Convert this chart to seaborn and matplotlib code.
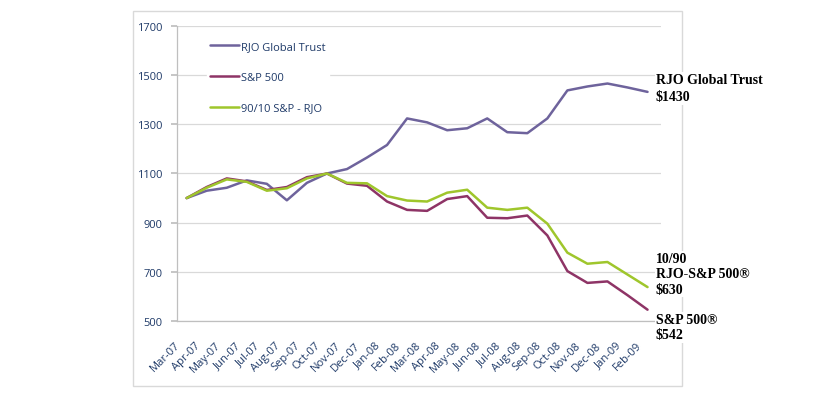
import matplotlib.pyplot as plt
import matplotlib.patches as mpatches
import numpy as np
import pandas as pd
import seaborn as sns

MONTHS = [
    "Mar-07", "Apr-07", "May-07", "Jun-07", "Jul-07", "Aug-07", "Sep-07", "Oct-07",
    "Nov-07", "Dec-07", "Jan-08", "Feb-08", "Mar-08", "Apr-08", "May-08", "Jun-08",
    "Jul-08", "Aug-08", "Sep-08", "Oct-08", "Nov-08", "Dec-08", "Jan-09", "Feb-09",
]
RJO = [1000, 1030, 1042, 1072, 1058, 991, 1062, 1100, 1118, 1165, 1216, 1324,
       1308, 1276, 1284, 1324, 1268, 1264, 1324, 1438, 1454, 1466, 1450, 1432]
SP500 = [1000, 1045, 1080, 1068, 1033, 1045, 1085, 1100, 1059, 1050, 986, 952,
         948, 996, 1008, 920, 918, 929, 848, 703, 655, 661, 605, 546]
MIX = [1000, 1042, 1076, 1066, 1030, 1040, 1080, 1100, 1062, 1060, 1008, 990,
       986, 1022, 1034, 961, 952, 961, 896, 778, 733, 740, 689, 638]
SERIES = ["RJO Global Trust", "S&P 500", "90/10 S&P - RJO"]
COLORS = ["#6E639C", "#8E3466", "#9FC62C"]
YTICKS = [500, 700, 900, 1100, 1300, 1500, 1700]

NAVY = "#1F3A68"
GRID = "#D9D9D9"

df = pd.DataFrame({"idx": np.arange(len(MONTHS)), "RJO Global Trust": RJO,
                   "S&P 500": SP500, "90/10 S&P - RJO": MIX})
long_df = df.melt(id_vars="idx", var_name="series", value_name="value")

sns.set_theme(style="white")
plt.rcParams["font.family"] = ["Open Sans", "DejaVu Sans"]

fig = plt.figure(figsize=(8.16, 4.06), dpi=100)
ax = fig.add_axes([0.2165, 0.2069, 0.593, 0.7266])

# outer chart frame
fig.patches.append(mpatches.Rectangle((133 / 816, 1 - 387 / 406), 549 / 816, 375 / 406,
                                      transform=fig.transFigure, fill=False,
                                      edgecolor=GRID, linewidth=1.0, zorder=0))

sns.lineplot(data=long_df, x="idx", y="value", hue="series", hue_order=SERIES,
             palette=COLORS, linewidth=1.8, ax=ax)

ax.set_xlim(-0.5, 23.65)
ax.set_ylim(500, 1700)
ax.set_yticks(YTICKS)
ax.set_yticklabels([str(v) for v in YTICKS], color=NAVY, fontsize=8)
ax.yaxis.grid(True, color=GRID, linewidth=0.9)
ax.set_axisbelow(True)

# labels sit a little left of the category centre, like Excel's rotated labels
ax.set_xticks(np.arange(len(MONTHS)) - 0.4)
ax.set_xticklabels(MONTHS, rotation=45, ha="right", va="center", rotation_mode="anchor",
                   color=NAVY, fontsize=8)
ax.set_xticks(np.arange(len(MONTHS) + 1) - 0.5, minor=True)
ax.tick_params(axis="x", which="major", length=0, pad=16)
ax.tick_params(axis="x", which="minor", length=4, color="#BFBFBF", direction="out")
ax.tick_params(axis="y", length=4, color="#BFBFBF", direction="out", pad=6, left=True)
ax.set_xlabel("")
ax.set_ylabel("")

for side in ["top", "right"]:
    ax.spines[side].set_visible(False)
for side in ["left", "bottom"]:
    ax.spines[side].set_color("#BFBFBF")
    ax.spines[side].set_linewidth(0.9)

handles, labels = ax.get_legend_handles_labels()
leg = ax.legend(handles, labels, loc="upper left", bbox_to_anchor=(201 / 816, 1 - 33 / 406),
                bbox_transform=fig.transFigure, frameon=True, fontsize=8,
                labelspacing=1.78, handlelength=2.6, handletextpad=0.2, borderpad=0.3)
leg.get_frame().set_edgecolor("white")
leg.get_frame().set_facecolor("white")
leg.get_frame().set_alpha(1)
for t in leg.get_texts():
    t.set_color(NAVY)

serif = dict(family=["Liberation Serif", "DejaVu Serif"], weight="bold", fontsize=10,
             color="black", ha="left", va="top",
             bbox=dict(facecolor="white", edgecolor="none", pad=1))
fig.text(656 / 816, 1 - 74 / 406, "RJO Global Trust\n\\$1430", linespacing=1.45, **serif)
fig.text(656 / 816, 1 - 253 / 406, "10/90\nRJO-S&P 500®\n\\$630", linespacing=1.25, **serif)
fig.text(656 / 816, 1 - 314 / 406, "S&P 500®\n\\$542", linespacing=1.25, **serif)

fig.savefig("out.png", dpi=100)
